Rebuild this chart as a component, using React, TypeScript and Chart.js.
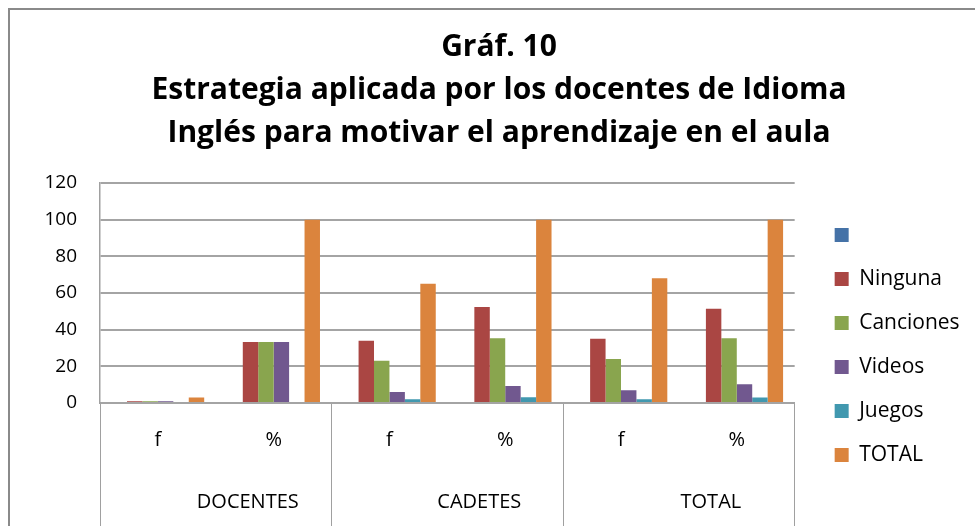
import { useEffect, useRef } from 'react';
import { Chart, registerables } from 'chart.js';

Chart.register(...registerables);

const categories = ['f', '%', 'f', '%', 'f', '%'];
const groups = ['DOCENTES', 'CADETES', 'TOTAL'];
const seriesNames = ['', 'Ninguna', 'Canciones', 'Videos', 'Juegos', 'TOTAL'];
const blankValues = [0, 0, 0, 0, 0, 0];
const ningunaValues = [1, 33.33, 34, 52.31, 35, 51.47];
const cancionesValues = [1, 33.33, 23, 35.38, 24, 35.29];
const videosValues = [1, 33.33, 6, 9.23, 7, 10.29];
const juegosValues = [0, 0, 2, 3.08, 2, 2.94];
const totalValues = [3, 100, 65, 100, 68, 100];
const seriesColors = ['#4572A7', '#AA4643', '#89A54E', '#71588F', '#4198AF', '#DB843D'];
const titleLines = [
  'Gráf. 10',
  'Estrategia aplicada por los docentes de Idioma',
  'Inglés para motivar el aprendizaje en el aula',
];
const yMin = 0;
const yMax = 120;
const yStep = 20;

const W = 975;
const H = 690;
const VIEW_H = 526;
const GRID = '#a4a4a4';
const DIV = '#a0a0a0';
const FONT = "'Open Sans'";

export default function App() {
  const ref = useRef<HTMLCanvasElement | null>(null);

  useEffect(() => {
    if (!ref.current) return;
    const allSeries = [blankValues, ningunaValues, cancionesValues, videosValues, juegosValues, totalValues];
    const chart = new Chart(ref.current, {
      type: 'bar',
      data: {
        labels: categories,
        datasets: allSeries.map((vals, i) => ({
          label: seriesNames[i],
          data: vals,
          backgroundColor: seriesColors[i],
          borderWidth: 0,
          xAxisID: 'x',
          yAxisID: 'y',
          categoryPercentage: 0.8,
          barPercentage: 1,
        })),
      },
      options: {
        responsive: false,
        animation: false,
        devicePixelRatio: 1,
        layout: { padding: { left: 30, right: 7, top: 0, bottom: 0 } },
        plugins: {
          tooltip: { enabled: false },
          title: {
            display: true,
            text: titleLines,
            color: '#000',
            font: { family: FONT, size: 30, weight: 'bold', lineHeight: 43 / 30 },
            padding: { top: 25.5, bottom: 28.5 },
          },
          legend: {
            position: 'right',
            align: 'center',
            labels: {
              boxWidth: 14,
              boxHeight: 14,
              padding: 23,
              color: '#000',
              font: { family: FONT, size: 21 },
            },
          },
        },
        scales: {
          x: {
            type: 'category',
            position: 'bottom',
            offset: true,
            grid: {
              offset: true,
              drawOnChartArea: false,
              drawTicks: true,
              tickLength: 134,
              lineWidth: 1,
              color: (ctx: any) => (ctx.type !== 'tick' || ctx.index % 2 === 0 ? DIV : 'rgba(0,0,0,0)'),
              tickColor: (ctx: any) => (ctx.type !== 'tick' || ctx.index % 2 === 0 ? DIV : 'rgba(0,0,0,0)'),
            },
            border: { display: true, color: GRID, width: 2 },
            ticks: {
              color: '#000',
              font: { family: FONT, size: 20 },
              padding: -109,
              autoSkip: false,
              maxRotation: 0,
            },
            afterFit: (s: any) => {
              s.height = 50;
            },
          },
          x2: {
            type: 'category',
            axis: 'x',
            position: 'bottom',
            labels: groups,
            offset: true,
            grid: { display: false },
            border: { display: false },
            ticks: {
              color: '#000',
              font: { family: FONT, size: 20 },
              padding: 29,
              labelOffset: 32,
              autoSkip: false,
              maxRotation: 0,
            },
            afterFit: (s: any) => {
              s.height = 237;
            },
          },
          y: {
            type: 'linear',
            position: 'left',
            min: yMin,
            max: yMax,
            ticks: {
              stepSize: yStep,
              color: '#000',
              font: { family: FONT, size: 19 },
              padding: 23,
            },
            grid: { color: GRID, lineWidth: 2, drawTicks: false },
            border: { display: true, color: DIV, width: 1.5 },
            afterFit: (s: any) => {
              s.width = 70;
            },
          },
          y2: {
            type: 'linear',
            axis: 'y',
            position: 'right',
            display: true,
            grid: { display: false },
            border: { display: false },
            ticks: { display: false },
            afterFit: (s: any) => {
              s.width = 17;
            },
          },
        },
      },
    } as any);
    return () => chart.destroy();
  }, []);

  return (
    <div
      style={{
        position: 'fixed',
        left: 0,
        top: 0,
        width: W,
        height: VIEW_H,
        overflow: 'hidden',
        background: '#fff',
      }}
    >
      <div
        style={{
          position: 'absolute',
          left: 8,
          top: 8,
          width: 2000,
          height: 2000,
          borderLeft: '2px solid #8a8a8a',
          borderTop: '2px solid #8a8a8a',
          boxSizing: 'border-box',
        }}
      />
      <canvas ref={ref} width={W} height={H} style={{ position: 'absolute', left: 0, top: 0, display: 'block' }} />
    </div>
  );
}
